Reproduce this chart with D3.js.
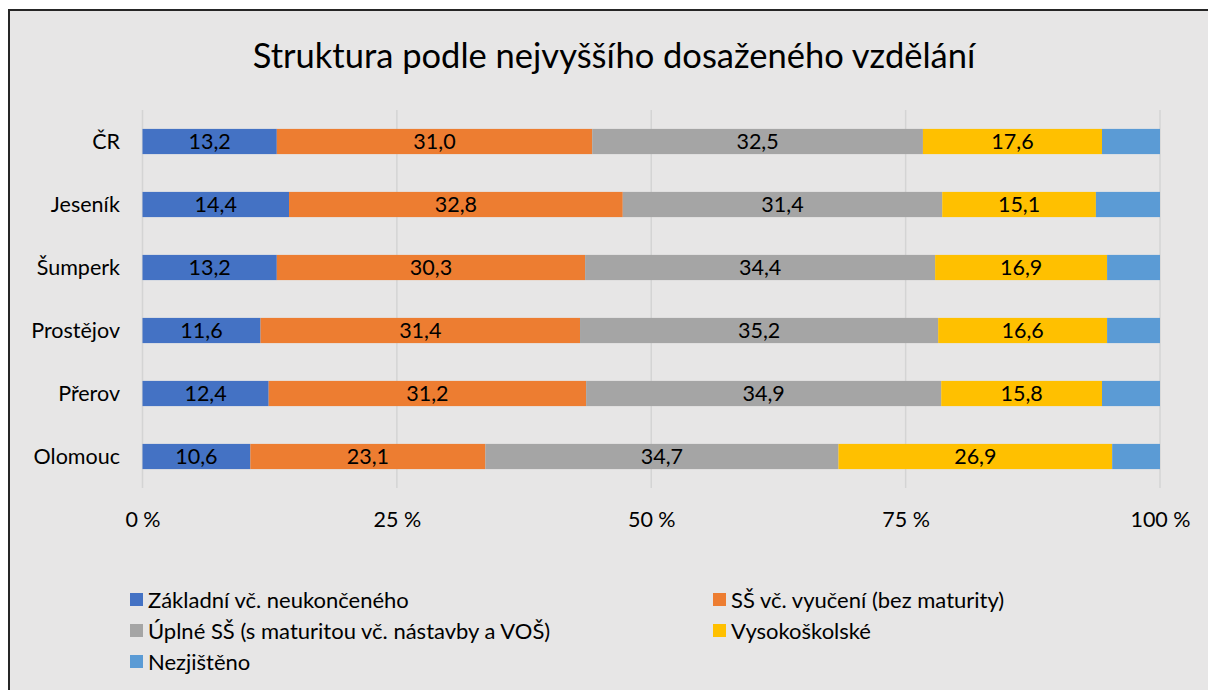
<!DOCTYPE html>
<html><head><meta charset="utf-8">
<script src="https://cdn.jsdelivr.net/npm/d3@7"></script>
<style>html,body{margin:0;padding:0;background:#fff;}svg{display:block;}</style>
</head><body>
<svg id="c" width="1208" height="690"></svg>
<script>
const categories = ["ČR","Jeseník","Šumperk","Prostějov","Přerov","Olomouc"];
const seriesNames = ["Základní vč. neukončeného","SŠ vč. vyučení (bez maturity)","Úplné SŠ (s maturitou vč. nástavby a VOŠ)","Vysokoškolské","Nezjištěno"];
const zakladni = [13.2,14.4,13.2,11.6,12.4,10.6];
const ssVyuceni = [31.0,32.8,30.3,31.4,31.2,23.1];
const uplneSS = [32.5,31.4,34.4,35.2,34.9,34.7];
const vysoko = [17.6,15.1,16.9,16.6,15.8,26.9];
const nezjisteno = [5.7,6.3,5.2,5.2,5.7,4.7];
const tickValues = [0,25,50,75,100];
const colors = ["#4472c4","#ed7d31","#a5a5a5","#ffc000","#5b9bd5"];
const title = "Struktura podle nejvyššího dosaženého vzdělání";

const font = "Lato, 'Open Sans', sans-serif";
const fs = 21.5;
const svg = d3.select("#c");
svg.append("rect").attr("x",9).attr("y",10).attr("width",1210).attr("height",700)
  .attr("fill","#e7e6e6").attr("stroke","#262626").attr("stroke-width",2);

svg.append("text").attr("x",614).attr("y",68).attr("text-anchor","middle")
  .attr("font-family",font).attr("font-size",34.5).attr("fill","#000").text(title);

const series = [zakladni, ssVyuceni, uplneSS, vysoko, nezjisteno];
const rows = categories.map((c,i)=>{ const o={cat:c}; series.forEach((s,k)=>o["s"+k]=s[i]); return o;});
const keys = series.map((s,k)=>"s"+k);
const stacked = d3.stack().keys(keys).offset(d3.stackOffsetExpand)(rows);

const x = d3.scaleLinear().domain([0,1]).range([142.5,1160]);
const y = d3.scaleBand().domain(categories).range([110,488]).paddingInner(0.6).paddingOuter(0.3);

const g = svg.append("g");
g.selectAll("line.grid").data(tickValues).enter().append("line")
  .attr("x1",d=>x(d/100)).attr("x2",d=>x(d/100)).attr("y1",110).attr("y2",488)
  .attr("stroke","#d4d4d4").attr("stroke-width",1.5);

stacked.forEach((layer,k)=>{
  g.selectAll(null).data(layer).enter().append("rect")
    .attr("x",d=>x(d[0])).attr("width",d=>x(d[1])-x(d[0]))
    .attr("y",d=>y(d.data.cat)).attr("height",y.bandwidth())
    .attr("fill",colors[k]);
  if(k<4){
    g.selectAll(null).data(layer).enter().append("text")
      .attr("x",d=>(x(d[0])+x(d[1]))/2).attr("y",d=>y(d.data.cat)+y.bandwidth()/2)
      .attr("dy","0.36em").attr("text-anchor","middle")
      .attr("font-family",font).attr("font-size",fs).attr("fill","#000")
      .text(d=>d3.format(".1f")(d.data["s"+k]).replace(".",","));
  }
});

const ya = svg.append("g").attr("transform","translate(120,0)")
  .call(d3.axisLeft(y).tickSize(0).tickPadding(0));
ya.select(".domain").remove();
ya.selectAll("text").attr("font-family",font).attr("font-size",fs).attr("fill","#000").attr("dy","0.36em");

const xa = svg.append("g").attr("transform","translate(0,511)")
  .call(d3.axisBottom(d3.scaleLinear().domain([0,100]).range([142.5,1160])).tickValues(tickValues).tickSize(0).tickPadding(0).tickFormat(d=>d+" %"));
xa.select(".domain").remove();
xa.selectAll("text").attr("font-family",font).attr("font-size",fs).attr("fill","#000").attr("dy","0.75em");

const legendPos = [[130,600],[713,600],[130,631],[713,631],[130,662]];
seriesNames.forEach((n,k)=>{
  const [lx,ly]=legendPos[k];
  svg.append("rect").attr("x",lx).attr("y",ly-7).attr("width",13).attr("height",13).attr("fill",colors[k]);
  svg.append("text").attr("x",lx+18).attr("y",ly).attr("dy","0.36em")
    .attr("font-family",font).attr("font-size",22).attr("fill","#000").text(n);
});
</script>
</body></html>
